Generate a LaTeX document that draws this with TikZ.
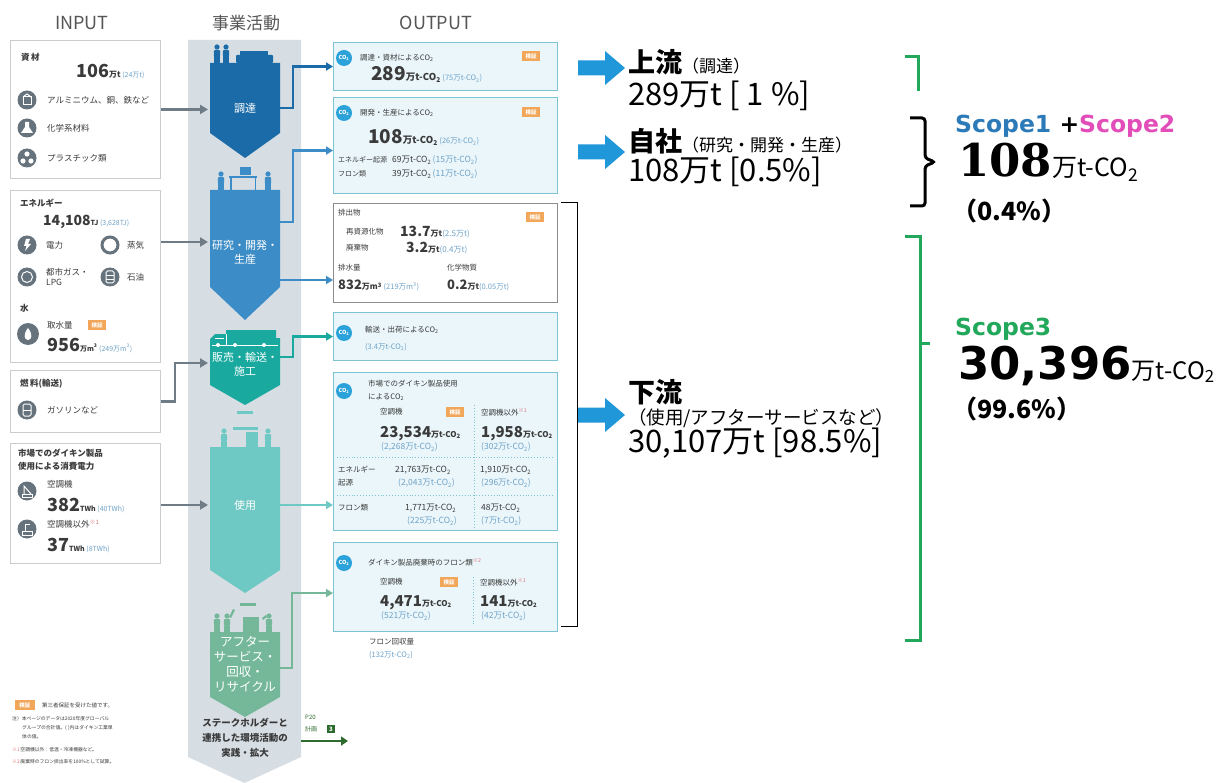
\documentclass[tikz,border=0pt]{standalone}
\usepackage{fontspec}
\setmainfont{Noto Sans CJK JP}
\newfontfamily\dvsans{DejaVu Sans}
\newfontfamily\dvserif{DejaVu Serif}
\usetikzlibrary{arrows.meta,calc}

\definecolor{band}{HTML}{D6DEE4}
\definecolor{pone}{HTML}{1B6BA8}
\definecolor{ptwo}{HTML}{3C8DC7}
\definecolor{pthree}{HTML}{19A99E}
\definecolor{pfour}{HTML}{6EC8C3}
\definecolor{pfive}{HTML}{74B899}
\definecolor{outfill}{HTML}{EAF6FA}
\definecolor{outline}{HTML}{7CC4D4}
\definecolor{cotwoblue}{HTML}{2BA2D9}
\definecolor{badgeorange}{HTML}{F2A65A}
\definecolor{bigarrow}{HTML}{1F97D8}
\definecolor{scopegreen}{HTML}{22A85A}
\definecolor{scopepink}{HTML}{E24DB9}
\definecolor{scopeblue}{HTML}{2C7BB8}
\definecolor{boxgray}{HTML}{C9CDD0}
\definecolor{arrowgray}{HTML}{6F7C86}
\definecolor{icongray}{HTML}{66737D}
\definecolor{subblue}{HTML}{6EA2C8}
\definecolor{txt}{HTML}{3A3A3A}
\definecolor{headgray}{HTML}{555555}
\definecolor{darkgreen}{HTML}{2E6B2E}
\definecolor{notered}{HTML}{E0707A}

\newcommand\cotwo{CO\textsubscript{2}}
\newcommand\fsz[1]{\fontsize{#1}{#1}\selectfont}
\newcommand\sv[2][8.5]{{\color{subblue}\fsz{#1}#2}}
\newcommand\bn[2]{{\fsz{#1}\bfseries #2}}
\newcommand\nt[1]{\textsuperscript{\color{notered}#1}}

% a standing figure: x, y of the feet, colour
\newcommand\drawperson[3]{%
  \fill[#3] (#1,#2-16) circle (2.6);
  \fill[#3, rounded corners=1] (#1-3.2,#2-13) rectangle (#1+3.2,#2-6);
  \fill[#3] (#1-2.8,#2-6.5) rectangle (#1-0.3,#2);
  \fill[#3] (#1+0.3,#2-6.5) rectangle (#1+2.8,#2);
}
% wide block arrow pointing right, centred at height #1
\newcommand\blockarrow[1]{%
  \fill[bigarrow] (578,#1-7.5) -- (605,#1-7.5) -- (605,#1-17) -- (625,#1)
    -- (605,#1+17) -- (605,#1+7.5) -- (578,#1+7.5) -- cycle;
}

\tikzset{
  inbox/.style={draw=boxgray, line width=0.9pt, fill=white, anchor=north west,
    inner sep=0pt, minimum width=150pt},
  outbox/.style={draw=outline, line width=1.1pt, fill=outfill, anchor=north west,
    inner sep=0pt, minimum width=224pt},
  whitebox/.style={draw=black!45, line width=0.9pt, fill=white, anchor=north west,
    inner sep=0pt, minimum width=224pt},
  lbl/.style={inner sep=0pt, anchor=west, text=txt, font=\fsz{7.5}},
  vlbl/.style={inner sep=0pt, anchor=west, text=txt, font=\fsz{8.5}},
  vals/.style={inner sep=0pt, anchor=base west, text=txt},
  ilbl/.style={inner sep=0pt, anchor=west, text=txt, font=\fsz{8.5}},
  ihead/.style={inner sep=0pt, anchor=west, text=txt, font=\fsz{8.5}\bfseries},
  ptext/.style={inner sep=0pt, text=white, font=\fontsize{11}{14}\selectfont, align=center},
  inarrow/.style={draw=arrowgray, line width=2.4pt, -{Triangle[length=8pt,width=9pt]}},
  outarrow/.style={draw=#1, line width=2.4pt, -{Triangle[length=7pt,width=8pt]}},
  coicon/.style={circle, fill=cotwoblue, text=white, inner sep=0pt, minimum size=16pt,
    font=\fsz{5.5}\bfseries},
  badgebox/.style={fill=badgeorange, text=white, inner sep=0pt, minimum width=18pt,
    minimum height=10pt, font=\fsz{5.5}\bfseries},
  gicon/.style={circle, fill=icongray, inner sep=0pt, minimum size=19pt},
  header/.style={inner sep=0pt, text=headgray},
  bigtxt/.style={inner sep=0pt, anchor=west, text=black},
}

\begin{document}
\begin{tikzpicture}[x=1pt,y=-1pt]
\useasboundingbox[fill=white] (0,0) rectangle (1230,783);

% ---------- column headers ----------
\node[header, font=\fsz{18}] (hin) at (82,23) {INPUT};
\node[header, font=\fsz{17}] (hact) at (246,23) {事業活動};
\node[header, font=\fsz{18}] (hout) at (436,23) {OUTPUT};

% ---------- business activity column ----------
\fill[band] (188,40) -- (301,40) -- (301,757) -- (244.5,783) -- (188,757) -- cycle;

% procurement
\fill[pone] (210,63) -- (280,63) -- (280,133) -- (245,158) -- (210,133) -- cycle;
\drawperson{217}{63}{pone}
\drawperson{226}{63}{pone}
\fill[pone, rounded corners=1] (236,55) rectangle (273,63);
\fill[pone] (240,51) rectangle (268,55);
% research, development, production
\fill[ptwo] (210,190) -- (280,190) -- (280,287) -- (245,320) -- (210,287) -- cycle;
\drawperson{221}{190}{ptwo}
\fill[ptwo] (229,176) rectangle (257,178.5);
\fill[ptwo] (230,178) rectangle (231.8,190);
\fill[ptwo] (254.5,178) rectangle (256.3,190);
\fill[ptwo] (240,167) rectangle (251,175);
\drawperson{268}{190}{ptwo}
% sales, transport, installation
\fill[pthree] (210,345) -- (210,339) -- (215,334) -- (226,334) -- (226,330) -- (276,330)
  -- (276,338) -- (280,338) -- (280,385) -- (245,405) -- (210,385) -- cycle;
\draw[white, line width=0.7] (212,345) -- (278,345);
\draw[white, line width=0.7] (226,334) -- (226,345);
\draw[white, line width=0.7] (215,338) -- (224,338);
\fill[white] (218,345) circle (2);
\fill[white] (235,345) circle (2);
\fill[white] (264,345) circle (2);
% use
\fill[pfour] (210,447) -- (280,447) -- (280,570) -- (245,593) -- (210,570) -- cycle;
\fill[pfour] (237,411) rectangle (253,414);
\drawperson{224}{447}{pfour}
\fill[pfour] (233,427) rectangle (258,429.5);
\fill[pfour] (246,432) rectangle (258,447);
\drawperson{268}{447}{pfour}
% after-sales service, recovery, recycling
\fill[pfive] (210,632) -- (280,632) -- (280,697) -- (245,717) -- (210,697) -- cycle;
\fill[pfive] (240,603) rectangle (256,606);
\drawperson{217}{632}{pfive}
\drawperson{227}{632}{pfive}
\fill[pfive] (229,617) -- (233,609) -- (235,610) -- (231,618) -- cycle;
\fill[pfive] (243,617) rectangle (259,632);
\drawperson{269}{632}{pfive}
\fill[pfive] (262,618) -- (266,615) -- (267,617) -- (263,620) -- cycle;

\node[ptext] (p1) at (245,108) {調達};
\node[ptext] (p2) at (245,252) {研究・開発・\\生産};
\node[ptext] (p3) at (245,364) {販売・輸送・\\施工};
\node[ptext] (p4) at (245,505) {使用};
\node[ptext, font=\fontsize{12.5}{14.8}\selectfont] (p5) at (245,664)
  {アフター\\サービス・\\回収・\\リサイクル};
\node[inner sep=0pt, text=txt, font=\fontsize{9.5}{15}\selectfont\bfseries, align=center]
  (stk) at (245,738) {ステークホルダーと\\連携した環境活動の\\実践・拡大};

% connector ends on the activity shapes
\coordinate (p1in) at (208,108);
\coordinate (p2in) at (208,242);
\coordinate (p3in) at (208,363);
\coordinate (p4in) at (208,505);
\coordinate (p1out) at (280,108);
\coordinate (p2outa) at (280,222);
\coordinate (p2outb) at (280,280);
\coordinate (p3out) at (280,357);
\coordinate (p4out) at (280,505);
\coordinate (p5out) at (280,668);

% ---------- input boxes ----------
\node[inbox, minimum height=138pt] (i1) at (10,40) {};
\node[inbox, minimum height=172pt] (i2) at (10,190) {};
\node[inbox, minimum height=62pt] (i3) at (10,370) {};
\node[inbox, minimum height=120pt] (i4) at (10,443) {};

% materials
\node[ihead] (m1) at (21,57) {資\,材};
\node[vals] (m1v) at (76,78) {\bn{18}{106}\bn{8}{万t}\,\sv[7]{(24万t)}};
\node[gicon] (m1a) at (27,100) {};
\draw[white, line width=1] ($(m1a)+(-4,-3)$) rectangle ($(m1a)+(4,5)$);
\draw[white, line width=1] ($(m1a)+(-4,-3)$) -- ($(m1a)+(0,-6)$) -- ($(m1a)+(4,-3)$);
\node[ilbl] (m1at) at (47,100) {アルミニウム、銅、鉄など};
\node[gicon] (m1b) at (27,128) {};
\fill[white] ($(m1b)+(-2,-6)$) -- ($(m1b)+(2,-6)$) -- ($(m1b)+(2,-1)$) -- ($(m1b)+(6,5)$)
  -- ($(m1b)+(-6,5)$) -- ($(m1b)+(-2,-1)$) -- cycle;
\node[ilbl] (m1bt) at (47,128) {化学系材料};
\node[gicon] (m1c) at (27,158) {};
\fill[white] ($(m1c)+(0,-4)$) circle (2.6);
\fill[white] ($(m1c)+(-4,3)$) circle (2.6);
\fill[white] ($(m1c)+(4,3)$) circle (2.6);
\node[ilbl] (m1ct) at (47,158) {プラスチック類};

% energy and water
\node[ihead] (m2) at (20,203) {エネルギー};
\node[vals] (m2v) at (43,226) {\bn{14}{14,108}\bn{7}{TJ}\,\sv[7]{(3,628TJ)}};
\node[gicon] (e1) at (27,245) {};
\fill[white] ($(e1)+(-1,-6)$) -- ($(e1)+(3,-6)$) -- ($(e1)+(1,-1)$) -- ($(e1)+(4,-1)$)
  -- ($(e1)+(-2,6)$) -- ($(e1)+(-0.5,1)$) -- ($(e1)+(-3,1)$) -- cycle;
\node[ilbl] (e1t) at (46,245) {電力};
\node[circle, draw=icongray, line width=3pt, inner sep=0pt, minimum size=16pt] (e2) at (110,245) {};
\node[ilbl] (e2t) at (127,245) {蒸気};
\node[gicon] (e3) at (27,277) {};
\draw[white, line width=1] (e3) circle (5.5);
\node[ilbl, align=left, font=\fontsize{8.5}{10}\selectfont] (e3t) at (46,277) {都市ガス・\\LPG};
\node[gicon] (e4) at (110,277) {};
\draw[white, line width=1, rounded corners=1.5] ($(e4)+(-4,-6)$) rectangle ($(e4)+(4,6)$);
\draw[white, line width=0.8] ($(e4)+(-4,-2)$) -- ($(e4)+(4,-2)$);
\draw[white, line width=0.8] ($(e4)+(-4,2)$) -- ($(e4)+(4,2)$);
\node[ilbl] (e4t) at (127,277) {石油};
\node[ihead] (m3) at (20,308) {水};
\node[gicon, minimum size=22pt] (w1) at (28,334) {};
\fill[white] ($(w1)+(0,-6)$) .. controls ($(w1)+(5,0)$) and ($(w1)+(4,6)$) .. ($(w1)+(0,6)$)
  .. controls ($(w1)+(-4,6)$) and ($(w1)+(-5,0)$) .. ($(w1)+(0,-6)$);
\node[ilbl] (w1t) at (47,325) {取水量};
\node[badgebox] (bw) at (97,325) {検証};
\node[vals] (w1v) at (47,351) {\bn{18}{956}\bn{7}{万m\textsuperscript{3}}\,\sv[7]{(249万m\textsuperscript{3})}};

% fuel
\node[ihead] (m4) at (20,384) {燃\,料(輸送)};
\node[gicon] (f1) at (27,410) {};
\draw[white, line width=1, rounded corners=1.5] ($(f1)+(-4,-6)$) rectangle ($(f1)+(4,6)$);
\draw[white, line width=0.8] ($(f1)+(-4,0)$) -- ($(f1)+(4,0)$);
\node[ilbl] (f1t) at (47,410) {ガソリンなど};

% electricity used by products
\node[ihead] (m5) at (18,453) {市場でのダイキン製品};
\node[ihead] (m5b) at (18,466) {使用による消費電力};
\node[gicon] (u1) at (27,491) {};
\draw[white, line width=1] ($(u1)+(-5,3)$) rectangle ($(u1)+(5,6)$);
\draw[white, line width=1] ($(u1)+(-3,3)$) -- ($(u1)+(-3,-5)$) -- ($(u1)+(4,3)$);
\node[ilbl] (u1t) at (47,484) {空調機};
\node[vals] (u1v) at (47,511) {\bn{18}{382}\bn{7}{TWh}\,\sv[7]{(40TWh)}};
\node[gicon] (u2) at (27,529) {};
\draw[white, line width=1] ($(u2)+(-5,2)$) rectangle ($(u2)+(5,6)$);
\draw[white, line width=1] ($(u2)+(-2,2)$) -- ($(u2)+(-2,-5)$) -- ($(u2)+(3,-5)$);
\node[ilbl] (u2t) at (47,524) {空調機以外\nt{※1}};
\node[vals] (u2v) at (47,551) {\bn{18}{37}\bn{7}{TWh}\,\sv[7]{(8TWh)}};

% ---------- input connectors ----------
\draw[inarrow] (i1.east) -- (i1.east -| p1in);
\draw[inarrow] (i2.east |- p2in) -- (p2in);
\draw[inarrow] (i3.east) -- ++(14,0) |- (p3in);
\draw[inarrow] (i4.east |- p4in) -- (p4in);

% ---------- output boxes ----------
\node[outbox, minimum height=48pt] (o1) at (333,42) {};
\node[outbox, minimum height=96pt] (o2) at (333,97) {};
\node[whitebox, minimum height=99pt] (o3) at (333,203) {};
\node[outbox, minimum height=48pt] (o4) at (333,312) {};
\node[outbox, minimum height=158pt] (o5) at (333,372) {};
\node[outbox, minimum height=89pt] (o6) at (333,542) {};

% procurement CO2
\node[coicon] (c1) at (344,58) {\cotwo};
\node[lbl] (o1t) at (360,58) {調達・資材による\cotwo};
\node[badgebox] (b1) at (531,56) {検証};
\node[vals] (o1v) at (371,81) {\bn{19}{289}\bn{9.5}{万t-\cotwo}\,\sv[7.5]{(75万t-\cotwo)}};
% development / production CO2
\node[coicon] (c2) at (344,113) {\cotwo};
\node[lbl] (o2t) at (360,113) {開発・生産による\cotwo};
\node[badgebox] (b2) at (531,112) {検証};
\node[vals] (o2v) at (368,144) {\bn{19}{108}\bn{9.5}{万t-\cotwo}\,\sv[7.5]{(26万t-\cotwo)}};
\node[lbl, font=\fsz{7}] (o2a) at (338,160) {エネルギー起源};
\node[vlbl] (o2av) at (392,160) {69万t-\cotwo\,\sv{(15万t-\cotwo)}};
\node[lbl, font=\fsz{7}] (o2b) at (338,174) {フロン類};
\node[vlbl] (o2bv) at (392,174) {39万t-\cotwo\,\sv{(11万t-\cotwo)}};
% emissions, waste water, chemicals
\node[lbl] (o3t) at (338,213) {排出物};
\node[badgebox] (b3) at (535,217) {検証};
\node[lbl] (o3a) at (346,232) {再資源化物};
\node[vals] (o3av) at (400,237) {\bn{14}{13.7}\bn{8}{万t}\sv[8]{(2.5万t)}};
\node[lbl] (o3b) at (346,248) {廃棄物};
\node[vals] (o3bv) at (406,253) {\bn{14}{3.2}\bn{8}{万t}\sv[8]{(0.4万t)}};
\node[lbl] (o3c) at (338,268) {排水量};
\node[lbl] (o3d) at (447,268) {化学物質};
\node[vals] (o3cv) at (338,290) {\bn{13}{832}\bn{8}{万m\textsuperscript{3}}\,\sv[7.5]{(219万m\textsuperscript{3})}};
\node[vals] (o3dv) at (447,290) {\bn{13}{0.2}\bn{8}{万t}\sv[7.5]{(0.05万t)}};
% transport CO2
\node[coicon] (c4) at (344,333) {\cotwo};
\node[lbl] (o4t) at (365,330) {輸送・出荷による\cotwo};
\node[lbl] (o4v) at (365,347) {\sv[7.5]{(3.4万t-\cotwo)}};
% product use CO2
\node[coicon] (c5) at (344,391) {\cotwo};
\node[lbl] (o5t) at (368,384) {市場でのダイキン製品使用};
\node[lbl] (o5tb) at (368,397) {による\cotwo};
\node[lbl] (o5a) at (380,412) {空調機};
\node[badgebox] (b5) at (455,412) {検証};
\node[lbl] (o5b) at (481,412) {空調機以外\nt{※1}};
\node[vals] (o5av) at (380,437) {\bn{15}{23,534}\bn{8}{万t-\cotwo}};
\node[vals] (o5bv) at (481,437) {\bn{15}{1,958}\bn{8}{万t-\cotwo}};
\node[lbl] (o5as) at (381,447) {\sv{(2,268万t-\cotwo)}};
\node[lbl] (o5bs) at (481,447) {\sv{(302万t-\cotwo)}};
\draw[outline, dotted, line width=0.9] (337,457) -- (553,457);
\draw[outline, dotted, line width=0.9] (337,495) -- (553,495);
\draw[outline, dotted, line width=0.9] (474,405) -- (474,527);
\node[lbl] (o5c) at (338,470) {エネルギー};
\node[lbl] (o5cb) at (338,483) {起源};
\node[vlbl] (o5cv) at (395,470) {21,763万t-\cotwo};
\node[lbl] (o5cs) at (398,483) {\sv{(2,043万t-\cotwo)}};
\node[vlbl] (o5dv) at (480,470) {1,910万t-\cotwo};
\node[lbl] (o5ds) at (481,483) {\sv{(296万t-\cotwo)}};
\node[lbl] (o5e) at (338,508) {フロン類};
\node[vlbl] (o5ev) at (405,508) {1,771万t-\cotwo};
\node[lbl] (o5es) at (407,521) {\sv{(225万t-\cotwo)}};
\node[vlbl] (o5fv) at (481,508) {48万t-\cotwo};
\node[lbl] (o5fs) at (481,521) {\sv{(7万t-\cotwo)}};
% refrigerants at disposal
\node[coicon] (c6) at (344,563) {\cotwo};
\node[lbl] (o6t) at (368,562) {ダイキン製品廃棄時のフロン類\nt{※2}};
\node[lbl] (o6a) at (380,582) {空調機};
\node[badgebox] (b6) at (449,582) {検証};
\node[lbl] (o6b) at (480,582) {空調機以外\nt{※1}};
\node[vals] (o6av) at (380,606) {\bn{15}{4,471}\bn{8}{万t-\cotwo}};
\node[vals] (o6bv) at (480,606) {\bn{15}{141}\bn{8}{万t-\cotwo}};
\node[lbl] (o6as) at (381,616) {\sv{(521万t-\cotwo)}};
\node[lbl] (o6bs) at (481,616) {\sv{(42万t-\cotwo)}};
\draw[outline, dotted, line width=0.9] (473,577) -- (473,626);
\node[lbl] (rec) at (369,642) {フロン回収量};
\node[lbl] (recv) at (369,655) {\sv[7.5]{(132万t-\cotwo)}};

% ---------- output connectors ----------
\draw[outarrow=pone] (p1out) -- ++(13,0) |- (o1.west);
\draw[outarrow=ptwo] (p2outa) -- ++(13,0) |- ($(o2.west)+(0,5)$);
\draw[outarrow=ptwo] (p2outb) -- (p2outb -| o3.west);
\draw[outarrow=pthree] (p3out) -- ++(13,0) |- (o4.west);
\draw[outarrow=pfour] (p4out) -- (p4out -| o5.west);
\draw[outarrow=pfive] (p5out) -- ++(12,0) |- ($(o6.west)+(0,6)$);

% ---------- plan reference ----------
\node[lbl, text=darkgreen, font=\fsz{6}] (pg) at (305,717) {P20};
\node[lbl, text=darkgreen, font=\fsz{6}] (pl) at (305,729) {計画};
\node[fill=darkgreen, text=white, inner sep=0pt, minimum size=8pt, font=\fsz{6}\bfseries] (pn) at (331,729) {3};
\coordinate (ga) at (301,741);
\coordinate (gb) at (348,741);
\draw[darkgreen, line width=2.6pt, -{Triangle[length=7pt,width=9pt]}] (ga) -- (gb);

% ---------- notes ----------
\node[badgebox, minimum width=20pt] (nb) at (25,705) {検証};
\node[lbl, font=\fsz{5.5}] (n0) at (42,705) {第三者保証を受けた値です。};
\node[lbl, font=\fsz{4.8}] (n1) at (12,719) {注）本ページのデータは2020年度グローバル};
\node[lbl, font=\fsz{4.8}] (n2) at (22,728) {グループの合計値。(\;)内はダイキン工業単};
\node[lbl, font=\fsz{4.8}] (n3) at (22,737) {体の値。};
\node[lbl, font=\fsz{4.8}] (n4) at (12,750) {\textcolor{notered}{※1}\,空調機以外：低温・冷凍機器など。};
\node[lbl, font=\fsz{4.8}] (n5) at (12,762) {\textcolor{notered}{※2}\,廃棄時のフロン排出率を100\%として試算。};

% ---------- summary on the right ----------
\draw[black, line width=1pt] (561,203) -- (577,203) -- (577,626) -- (561,626);
\blockarrow{68}
\blockarrow{152}
\blockarrow{415}

\node[bigtxt] (up) at (628,62) {{\fsz{27}\bfseries 上流}{\fsz{17}（調達）}};
\node[bigtxt] (upv) at (628,96) {\fsz{31}289万t [ 1 \%]};
\node[bigtxt] (own) at (628,141) {{\fsz{27}\bfseries 自社}{\fsz{17}（研究・開発・生産）}};
\node[bigtxt] (ownv) at (628,172) {\fsz{31}108万t [0.5\%]};
\node[bigtxt] (down) at (628,392) {\fsz{27}\bfseries 下流};
\node[bigtxt] (downs) at (628,418) {\fsz{18.5}（使用/アフターサービスなど）};
\node[bigtxt] (downv) at (628,443) {\fsz{31}30,107万t [98.5\%]};

\draw[scopegreen, line width=3pt] (905,57) -- (918,57) -- (918,91);
\draw[black, line width=3pt, rounded corners=3] (910,118) -- (925,118) -- (925,158)
  -- (935,162) -- (925,166) -- (925,206) -- (910,206);
\draw[scopegreen, line width=3pt] (905,237) -- (920,237) -- (920,640) -- (905,640);
\draw[scopegreen, line width=3pt] (920,343) -- (930,343);

\node[bigtxt, font=\dvsans\bfseries\fsz{23.5}] (s12) at (955,126)
  {\textcolor{scopeblue}{Scope1} +\textcolor{scopepink}{Scope2}};
\node[inner sep=0pt, anchor=base west] (s12v) at (958,177)
  {{\dvserif\bfseries\fsz{45}108}{\fsz{25}万t-\cotwo}};
\node[bigtxt, font=\bfseries\fsz{25}] (s12p) at (952,211) {（0.4\%）};
\node[bigtxt, font=\dvsans\bfseries\fsz{23.5}, text=scopegreen] (s3) at (955,329) {Scope3};
\node[inner sep=0pt, anchor=base west] (s3v) at (958,379)
  {{\dvsans\bfseries\fsz{45}30,396}{\fsz{24}万t-\cotwo}};
\node[bigtxt, font=\bfseries\fsz{25}] (s3p) at (952,409) {（99.6\%）};

\end{tikzpicture}
\end{document}
